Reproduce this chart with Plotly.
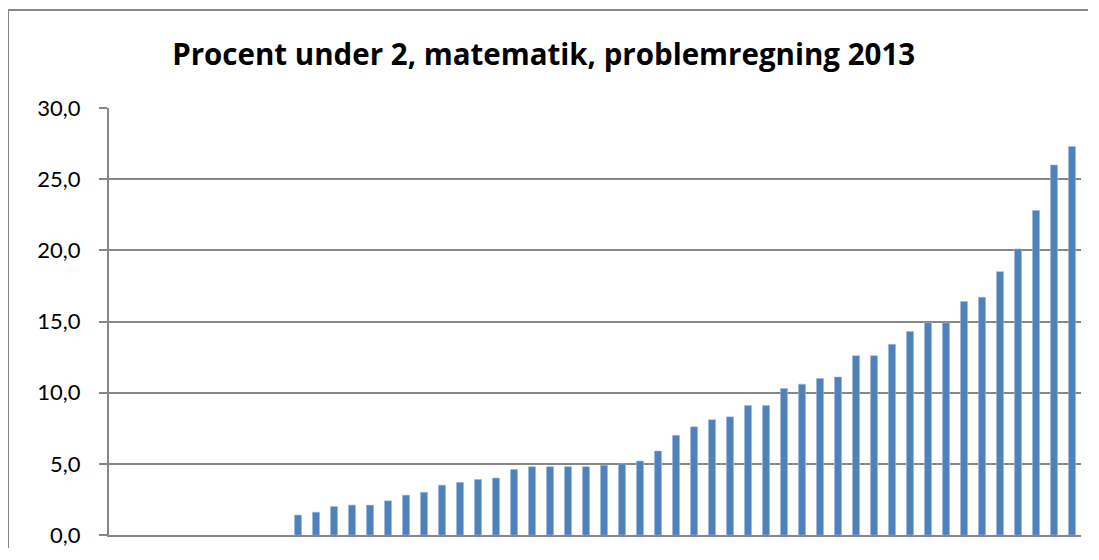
import plotly.graph_objects as go

# 54 categories, the first 10 have no value
categories = [str(i) for i in range(1, 55)]
empty = [None] * 10
percent_under_2 = [
    1.4, 1.6, 2.0, 2.1, 2.1, 2.4, 2.8, 3.0, 3.5, 3.7,
    3.9, 4.0, 4.6, 4.8, 4.8, 4.8, 4.8, 4.9, 5.0, 5.2,
    5.9, 7.0, 7.6, 8.1, 8.3, 9.1, 9.1, 10.3, 10.6, 11.0,
    11.1, 12.6, 12.6, 13.4, 14.3, 14.9, 14.9, 16.4, 16.7, 18.5,
    20.1, 22.8, 26.0, 27.3,
]
values = empty + percent_under_2
y_ticks = [0, 5, 10, 15, 20, 25, 30]

grey = "#878787"

fig = go.Figure(go.Bar(
    x=categories,
    y=values,
    marker=dict(color="#4F81BD", line=dict(color="#9DB7DC", width=0.6)),
))

# chart frame: only the top and left edges fall inside the picture
frame_left, frame_top, frame_right = -0.1039, 1.2295, 1.0072

# page body has an 8px margin; keep the figure inside the window (no scrollbars)
fig.update_layout(
    width=1080,
    height=540,
    margin=dict(l=101, r=7, t=100, b=13, autoexpand=False),
    paper_bgcolor="white",
    plot_bgcolor="white",
    separators=",.",
    bargap=0.61,
    showlegend=False,
    title=dict(
        text="<b>Procent under 2, matematik, problemregning 2013</b>",
        x=0.496, xanchor="center",
        y=0.913, yanchor="middle",
        font=dict(family="Open Sans", size=29.5, color="black"),
    ),
    xaxis=dict(
        automargin=False,
        showticklabels=False,
        showgrid=False,
        ticks="",
        showline=True,
        linecolor=grey,
        linewidth=2,
    ),
    yaxis=dict(
        automargin=False,
        range=[0, 30],
        tickvals=y_ticks,
        tickformat=".1f",
        ticks="outside",
        ticklen=8,
        tickcolor=grey,
        tickwidth=1.5,
        ticklabelstandoff=14,
        showline=True,
        linecolor=grey,
        linewidth=2,
        showgrid=True,
        gridcolor=grey,
        gridwidth=1.5,
        zeroline=False,
        tickfont=dict(family="Lato", size=22, color="black"),
    ),
    shapes=[
        dict(type="line", xref="paper", yref="paper",
             x0=frame_left, x1=frame_right, y0=frame_top, y1=frame_top,
             line=dict(color=grey, width=2)),
        dict(type="line", xref="paper", yref="paper",
             x0=frame_left, x1=frame_left, y0=-0.2, y1=frame_top,
             line=dict(color=grey, width=2)),
    ],
)

fig.write_html("out.html")
